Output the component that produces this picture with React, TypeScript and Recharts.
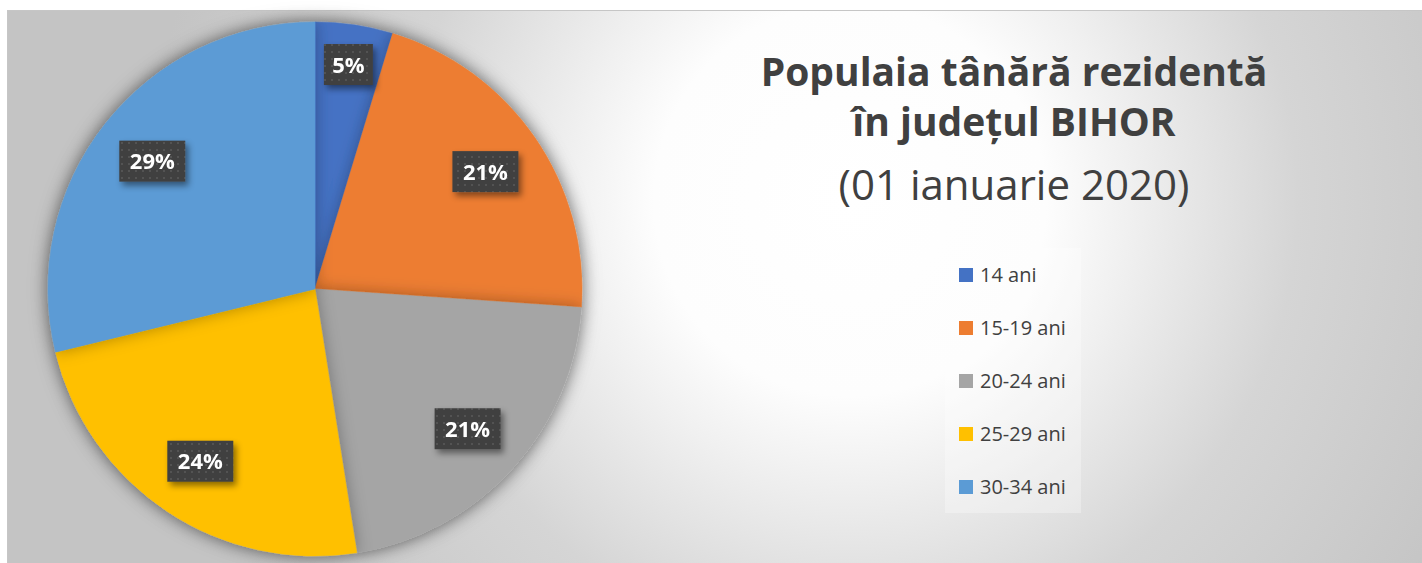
import React from 'react';
import { PieChart, Pie, Cell, Legend } from 'recharts';

const categories = ['14 ani', '15-19 ani', '20-24 ani', '25-29 ani', '30-34 ani'];
const shares = [4.7, 21.4, 21.4, 23.7, 28.8];
const colors = ['#4472C4', '#ED7D31', '#A5A5A5', '#FFC000', '#5B9BD5'];
const titleLines = ['Populaia tânără rezidentă', 'în județul BIHOR', '(01 ianuarie 2020)'];

const data = categories.map((name, i) => ({ name, value: shares[i] }));

const RAD = Math.PI / 180;
const FONT = '"Open Sans", "Noto Sans", sans-serif';

function renderLabel(props: any) {
  const { cx, cy, midAngle, outerRadius, percent, index } = props;
  const text = `${Math.round(percent * 100)}%`;
  const f = percent < 0.1 ? 0.85 : 0.775;
  const r = outerRadius * f;
  const x = cx + r * Math.cos(-midAngle * RAD);
  const y = cy + r * Math.sin(-midAngle * RAD);
  const w = text.length * 17 + 15;
  const h = 41;
  return (
    <g key={`lbl-${index}`}>
      <rect x={x - w / 2} y={y - h / 2} width={w} height={h} fill="url(#dotsPattern)" filter="url(#lblShadow)" />
      <text x={x} y={y + 8} textAnchor="middle" fill="#ffffff" fontFamily={FONT} fontWeight={700} fontSize={22}>
        {text}
      </text>
    </g>
  );
}

function renderLegend(props: any) {
  const { payload } = props;
  return (
    <div style={{ width: 136, height: 265, background: 'rgba(255,255,255,0.3)', boxSizing: 'border-box', paddingTop: 1 }}>
      {(payload || []).map((entry: any, i: number) => (
        <div key={i} style={{ display: 'flex', alignItems: 'center', height: 52.8, marginLeft: 14 }}>
          <span style={{ display: 'inline-block', width: 14, height: 14, background: entry.color, marginRight: 7 }} />
          <span style={{ fontFamily: FONT, fontSize: 20, color: '#404040', lineHeight: '20px' }}>{entry.value}</span>
        </div>
      ))}
    </div>
  );
}

export default function App() {
  return (
    <div style={{ position: 'absolute', left: 0, top: 0, width: 1422, height: 563, overflow: 'hidden', background: '#fff' }}>
      <svg width={1422} height={563} style={{ position: 'absolute', left: 0, top: 0 }}>
        <defs>
          <radialGradient id="bgGrad" gradientUnits="userSpaceOnUse" cx={850} cy={200} r={700}>
            <stop offset="0" stopColor="#ffffff" />
            <stop offset="0.28" stopColor="#fdfdfd" />
            <stop offset="0.4" stopColor="#f0f0f0" />
            <stop offset="0.64" stopColor="#d5d5d5" />
            <stop offset="1" stopColor="#c4c4c4" />
          </radialGradient>
          <pattern id="dotsPattern" width="7" height="7" patternUnits="userSpaceOnUse">
            <rect width="7" height="7" fill="#404040" />
            <rect x="2" y="2" width="2" height="2" fill="#525252" />
          </pattern>
          <filter id="lblShadow" x="-30%" y="-30%" width="170%" height="180%">
            <feDropShadow dx="3" dy="4" stdDeviation="3" floodColor="#000" floodOpacity="0.45" />
          </filter>
          <filter id="pieShadow" x="-20%" y="-20%" width="140%" height="140%">
            <feDropShadow dx="0" dy="0" stdDeviation="8" floodColor="#000" floodOpacity="0.3" />
          </filter>
        </defs>
        <rect x={7.5} y={10.5} width={1430} height={570} fill="url(#bgGrad)" stroke="#c6c6c6" strokeWidth={1} />
        <text x={1014} y={86} textAnchor="middle" fontFamily={FONT} fontWeight={700} fontSize={39} fill="#404040">
          {titleLines[0]}
        </text>
        <text x={1014} y={136} textAnchor="middle" fontFamily={FONT} fontWeight={700} fontSize={39} fill="#404040">
          {titleLines[1]}
        </text>
        <text x={1014} y={200} textAnchor="middle" fontFamily={FONT} fontWeight={400} fontSize={42} fill="#404040">
          {titleLines[2]}
        </text>
      </svg>
      <style>{'.pieShadowed { filter: url(#pieShadow); }'}</style>
      <div style={{ position: 'absolute', left: 0, top: 0 }}>
        <PieChart width={1422} height={563} margin={{ top: 0, right: 0, bottom: 0, left: 0 }}>
          <Pie
            data={data}
            dataKey="value"
            nameKey="name"
            cx={315}
            cy={289}
            outerRadius={267}
            startAngle={90}
            endAngle={-270}
            isAnimationActive={false}
            label={renderLabel}
            labelLine={false}
            className="pieShadowed"
          >
            {data.map((d, i) => (
              <Cell key={d.name} fill={colors[i]} stroke={colors[i]} strokeWidth={0.5} />
            ))}
          </Pie>
          <Legend
            layout="vertical"
            align="right"
            verticalAlign="middle"
            content={renderLegend}
            wrapperStyle={{ position: 'absolute', left: 945, top: 248, width: 136, height: 265, right: 'auto', bottom: 'auto' }}
          />
        </PieChart>
      </div>
    </div>
  );
}
